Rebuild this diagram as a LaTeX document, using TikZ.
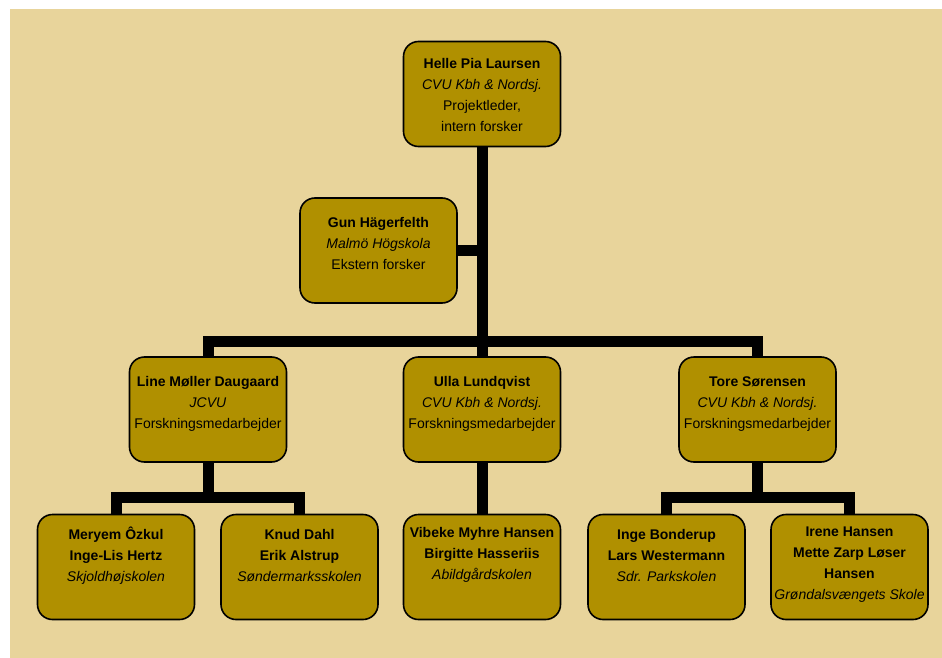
\documentclass[tikz,border=0pt]{standalone}
\usepackage{fontspec}
\setmainfont{Liberation Sans}
\definecolor{bgbeige}{RGB}{232,212,155}
\definecolor{boxfill}{RGB}{176,144,0}
\pgfdeclarelayer{bglayer}
\pgfdeclarelayer{linelayer}
\pgfsetlayers{bglayer,linelayer,main}
\newcommand\boxlines[1]{\vtop{\baselineskip=21pt\lineskiplimit=-20pt\lineskip=0pt\halign{\hfil##\hfil\cr#1\crcr}}}
\begin{document}
\begin{tikzpicture}[x=1pt,y=-1pt,
  orgbox/.style={draw=black, line width=1.6pt, fill=boxfill, rounded corners=15pt,
    minimum width=157pt, minimum height=105pt, inner sep=0pt},
  txt/.style={anchor=base, inner sep=0pt, font=\fontsize{14}{21}\selectfont},
  conn/.style={draw=black, line width=11pt, line cap=rect, line join=miter}]
\useasboundingbox (0,0) rectangle (942,658);
\begin{pgfonlayer}{bglayer}
\fill[bgbeige] (10,9) rectangle (942,658);
\end{pgfonlayer}
% boxes
\node[orgbox] (helle)  at (482,94)    {};
\node[orgbox] (gun)    at (378.5,250.5) {};
\node[orgbox] (line)   at (208,409.5) {};
\node[orgbox] (ulla)   at (482,409.5) {};
\node[orgbox] (tore)   at (757.5,409.5) {};
\node[orgbox] (meryem) at (116,567)   {};
\node[orgbox] (knud)   at (299.5,567) {};
\node[orgbox] (vibeke) at (482,567)   {};
\node[orgbox] (inge)   at (666.5,567) {};
\node[orgbox] (irene)  at (849.5,567) {};
% texts
\node[txt] (t-helle) at (482,68.5) {\boxlines{\textbf{Helle Pia Laursen}\cr\textit{CVU Kbh \& Nordsj.}\cr Projektleder,\cr intern forsker}};
\node[txt] (t-gun) at (378.5,227.5) {\boxlines{\textbf{Gun Hägerfelth}\cr\textit{Malmö Högskola}\cr Ekstern forsker}};
\node[txt] (t-line) at (208,386.5) {\boxlines{\textbf{Line Møller Daugaard}\cr\textit{JCVU}\cr Forskningsmedarbejder}};
\node[txt] (t-ulla) at (482,386.5) {\boxlines{\textbf{Ulla Lundqvist}\cr\textit{CVU Kbh \& Nordsj.}\cr Forskningsmedarbejder}};
\node[txt] (t-tore) at (757.5,386.5) {\boxlines{\textbf{Tore Sørensen}\cr\textit{CVU Kbh \& Nordsj.}\cr Forskningsmedarbejder}};
\node[txt] (t-meryem) at (116,539) {\boxlines{\textbf{Meryem Ôzkul}\cr\textbf{Inge-Lis Hertz}\cr\textit{Skjoldhøjskolen}}};
\node[txt] (t-knud) at (299.5,539) {\boxlines{\textbf{Knud Dahl}\cr\textbf{Erik Alstrup}\cr\textit{Søndermarksskolen}}};
\node[txt] (t-vibeke) at (482,537.5) {\boxlines{\textbf{Vibeke Myhre Hansen}\cr\textbf{Birgitte Hasseriis}\cr\textit{Abildgårdskolen}}};
\node[txt] (t-inge) at (666.5,539) {\boxlines{\textbf{Inge Bonderup}\cr\textbf{Lars Westermann}\cr\textit{Sdr. Parkskolen}}};
\node[txt] (t-irene) at (849.5,536.5) {\boxlines{\textbf{Irene Hansen}\cr\textbf{Mette Zarp Løser}\cr\textbf{Hansen}\cr\textit{Grøndalsvængets Skole}}};
% connectors
\coordinate (bar1) at (482,341);
\coordinate (bar2) at (208,497);
\coordinate (bar3) at (757.5,497);
\begin{pgfonlayer}{linelayer}
\draw[conn] (helle.south) -- (ulla.north);
\draw[conn] (gun.east) -- (gun.east -| helle.south);
\draw[conn] (line.north) -- (line.north |- bar1) -- (tore.north |- bar1) -- (tore.north);
\draw[conn] (line.south) -- (bar2);
\draw[conn] (meryem.north) -- (meryem.north |- bar2) -- (knud.north |- bar2) -- (knud.north);
\draw[conn] (ulla.south) -- (vibeke.north);
\draw[conn] (tore.south) -- (bar3);
\draw[conn] (inge.north) -- (inge.north |- bar3) -- (irene.north |- bar3) -- (irene.north);
\end{pgfonlayer}
\end{tikzpicture}
\end{document}
